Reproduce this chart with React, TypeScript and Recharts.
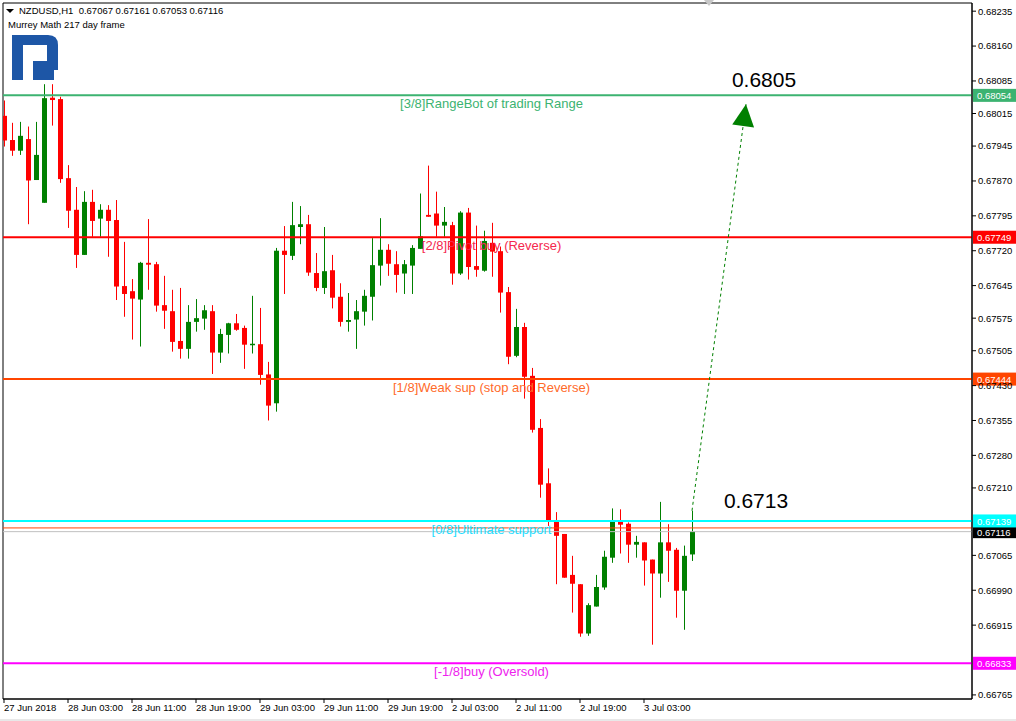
import React from 'react';
import {
  ComposedChart,
  Bar,
  XAxis,
  YAxis,
  ReferenceLine,
  ReferenceDot,
  ReferenceArea,
} from 'recharts';

const FONT = '"Liberation Sans", Arial, sans-serif';
const UP = '#008000';
const DOWN = '#ff0000';

// NZDUSD H1 candles, 27 Jun 19:00 .. 3 Jul 06:00 (one per hour)
const opens = [
  0.6801, 0.67958, 0.67935, 0.6796, 0.67872, 0.67823, 0.68049, 0.68046, 0.67876, 0.67808,
  0.67711, 0.67825, 0.67789, 0.67808, 0.67786, 0.67644, 0.67633, 0.67615, 0.67694, 0.67691,
  0.67603, 0.6759, 0.67526, 0.67509, 0.67567, 0.67574, 0.6759, 0.67501, 0.67539, 0.67564,
  0.67554, 0.67518, 0.67519, 0.67454, 0.67392, 0.6772, 0.67709, 0.67771, 0.67777, 0.67672,
  0.6764, 0.67678, 0.67621, 0.67567, 0.67572, 0.67589, 0.67621, 0.67688, 0.67722, 0.67691,
  0.67671, 0.67688, 0.67724, 0.67797, 0.678, 0.67774, 0.67775, 0.67671, 0.67802, 0.67687,
  0.67677, 0.67737, 0.67719, 0.67631, 0.67494, 0.67556, 0.67451, 0.67339, 0.6722, 0.67141,
  0.67111, 0.67023, 0.67003, 0.66897, 0.66955, 0.66996, 0.6706, 0.67141, 0.67133, 0.67088,
  0.67093, 0.67056, 0.67026, 0.67093, 0.67077, 0.66989, 0.67067,
];
const highs = [
  0.68043, 0.67995, 0.67997, 0.67987, 0.67997, 0.68078, 0.68078, 0.68051, 0.67904, 0.67857,
  0.67848, 0.67851, 0.6782, 0.67818, 0.67829, 0.67739, 0.67659, 0.67696, 0.67788, 0.67696,
  0.67666, 0.67636, 0.6764, 0.67603, 0.67616, 0.67603, 0.67603, 0.67552, 0.67565, 0.67584,
  0.67559, 0.67623, 0.67597, 0.67481, 0.67726, 0.67773, 0.67825, 0.67816, 0.67797, 0.67715,
  0.67771, 0.67711, 0.6765, 0.67629, 0.67614, 0.67636, 0.67747, 0.6779, 0.67734, 0.67719,
  0.677, 0.67732, 0.67843, 0.67903, 0.67847, 0.67814, 0.67782, 0.67805, 0.67812, 0.67774,
  0.67763, 0.6778, 0.67729, 0.67642, 0.67595, 0.67565, 0.67468, 0.67358, 0.67252, 0.67158,
  0.67111, 0.67064, 0.67003, 0.66962, 0.67023, 0.67075, 0.67166, 0.67164, 0.67136, 0.67107,
  0.67093, 0.67056, 0.6718, 0.67132, 0.67081, 0.67086, 0.67161,
];
const lows = [
  0.67944, 0.67924, 0.67926, 0.67777, 0.67872, 0.67823, 0.67989, 0.67866, 0.67769, 0.67683,
  0.67711, 0.6775, 0.6775, 0.67707, 0.67614, 0.67578, 0.67529, 0.67514, 0.67636, 0.67589,
  0.67552, 0.67503, 0.67488, 0.67488, 0.67546, 0.6755, 0.67455, 0.67479, 0.67499, 0.67548,
  0.67466, 0.67499, 0.67432, 0.67355, 0.67374, 0.67627, 0.677, 0.67734, 0.67666, 0.67633,
  0.67627, 0.67596, 0.67557, 0.67546, 0.67509, 0.67559, 0.6757, 0.67645, 0.67666, 0.6763,
  0.67627, 0.67627, 0.67724, 0.67793, 0.6775, 0.6775, 0.67647, 0.67668, 0.67658, 0.67664,
  0.67675, 0.67664, 0.67587, 0.67476, 0.67491, 0.67402, 0.67329, 0.67189, 0.67128, 0.67003,
  0.67017, 0.66942, 0.6689, 0.66892, 0.66955, 0.66991, 0.67049, 0.67069, 0.67049, 0.6706,
  0.67, 0.66873, 0.66974, 0.67008, 0.66931, 0.66905, 0.67053,
];
const closes = [
  0.67957, 0.67935, 0.67967, 0.67871, 0.67926, 0.68048, 0.68044, 0.67874, 0.67806, 0.67711,
  0.67825, 0.67784, 0.67808, 0.67784, 0.67643, 0.67627, 0.67617, 0.67694, 0.6769, 0.67602,
  0.67591, 0.67524, 0.67509, 0.67567, 0.67575, 0.67592, 0.67501, 0.67541, 0.67564, 0.6755,
  0.67518, 0.6752, 0.67453, 0.67387, 0.6772, 0.67711, 0.67775, 0.67777, 0.67673, 0.6764,
  0.67676, 0.67619, 0.67567, 0.67571, 0.6759, 0.67623, 0.67689, 0.67722, 0.67692, 0.67668,
  0.67691, 0.67726, 0.67751, 0.67793, 0.67774, 0.67782, 0.67671, 0.67802, 0.67685, 0.67679,
  0.67741, 0.67718, 0.6763, 0.67492, 0.67556, 0.67449, 0.67335, 0.67217, 0.6714, 0.67107,
  0.67017, 0.67004, 0.66897, 0.66958, 0.66997, 0.67062, 0.67141, 0.67131, 0.67088, 0.67094,
  0.67054, 0.67026, 0.67093, 0.67075, 0.66989, 0.67064, 0.67116,
];

const timeTicks = [0, 8, 16, 24, 32, 40, 48, 56, 64, 72, 80];
const timeLabels = [
  '27 Jun 2018', '28 Jun 03:00', '28 Jun 11:00', '28 Jun 19:00', '29 Jun 03:00',
  '29 Jun 11:00', '29 Jun 19:00', '2 Jul 03:00', '2 Jul 11:00', '2 Jul 19:00', '3 Jul 03:00',
];

const priceTicks = [
  0.68235, 0.6816, 0.68085, 0.68015, 0.67945, 0.6787, 0.67795, 0.6772, 0.67645, 0.67575,
  0.67505, 0.6743, 0.67355, 0.6728, 0.6721, 0.67065, 0.6699, 0.66915, 0.66765,
];

// Murrey Math levels
const levelValues = [0.68054, 0.67749, 0.67444, 0.67139, 0.66833];
const levelNames = [
  '[3/8]RangeBot of trading Range',
  '[2/8]Pivot buy (Reverse)',
  '[1/8]Weak sup (stop and Reverse)',
  '[0/8]Ultimate support',
  '[-1/8]buy (Oversold)',
];
const levelColors = ['#3cb371', '#ff0000', '#ff4500', '#00ffff', '#ff00ff'];
const levelTextColors = ['#3cb371', '#f5284e', '#ff6a2a', '#22ddff', '#ee22ee'];

const bidPrice = 0.67116;
const askPrice = 0.67124;

const arrowFrom = { i: 86, price: 0.67161 };
const arrowTo = { i: 92.75, price: 0.68035 };
const targetText = { i: 95, price: 0.68089, label: '0.6805' };
const currentText = { i: 94, price: 0.67182, label: '0.6713' };

const X_DOMAIN: [number, number] = [-0.125, 121];
const Y_DOMAIN: [number, number] = [0.667562, 0.682526];

const data = opens.map((o, i) => ({
  i,
  open: o,
  high: highs[i],
  low: lows[i],
  close: closes[i],
}));

function Candle(props: any) {
  const { x, y, width, height, payload } = props;
  const top = Math.min(y, y + height);
  const h = Math.abs(height);
  const up = payload.close >= payload.open;
  const color = up ? UP : DOWN;
  const span = payload.high - payload.low || 1e-9;
  const at = (v: number) => top + ((payload.high - v) / span) * h;
  const cx = Math.round(x + width / 2) + 0.5;
  const bTop = at(Math.max(payload.open, payload.close));
  const bBot = at(Math.min(payload.open, payload.close));
  return (
    <g>
      <line x1={cx} x2={cx} y1={top} y2={top + h} stroke={color} strokeWidth={1} />
      <rect x={cx - 2.5} y={bTop} width={5} height={Math.max(1.5, bBot - bTop)} fill={color} />
    </g>
  );
}

function TimeTick({ x, y, payload }: any) {
  const idx = timeTicks.indexOf(payload.value);
  return (
    <text x={x} y={y} dy="0.71em" textAnchor="start" fontSize={9.5} fontFamily={FONT} fill="#000">
      {idx >= 0 ? timeLabels[idx] : ''}
    </text>
  );
}

function LevelLabel({ viewBox, text, color, textColor, box, boxText, textColorBox }: any) {
  if (!viewBox) return null;
  const { x, y, width } = viewBox;
  return (
    <g>
      {text && (
        <text x={x + width / 2 + 4} y={y + 13} textAnchor="middle" fontSize={13} fontFamily={FONT} fill={textColor}>
          {text}
        </text>
      )}
      <rect x={x + width + 1} y={y - 6.5} width={43} height={13} fill={box} />
      <text x={x + width + 5} y={y + 0.5} dominantBaseline="central" fontSize={9.5} fontFamily={FONT} fill={textColorBox || '#fff'}>
        {boxText}
      </text>
    </g>
  );
}

function ArrowHead({ cx, cy }: any) {
  if (cx == null) return null;
  return (
    <polygon
      points={`${cx},${cy} ${cx - 11},${cy + 22} ${cx + 11},${cy + 22}`}
      fill={UP}
      transform={`rotate(7.4 ${cx} ${cy})`}
    />
  );
}

function BigText({ cx, cy, label }: any) {
  if (cx == null) return null;
  return (
    <text x={cx} y={cy} textAnchor="middle" dominantBaseline="central" fontSize={21} fontFamily={FONT} fill="#000">
      {label}
    </text>
  );
}

function Logo() {
  return (
    <svg width={70} height={90} style={{ position: 'absolute', left: 0, top: 0 }}>
      <rect x={12} y={35} width={11} height={45} fill="#1d56a6" />
      <path d="M23,35 H48 Q58,35 58,45 V70 H33 V61 H47 V45 H23 Z" fill="#1d56a6" />
      <rect x={33} y={70} width={21} height={10} fill="#1d56a6" />
    </svg>
  );
}

export default function App() {
  return (
    <div
      style={{
        position: 'fixed',
        left: 0,
        top: 0,
        width: 1016,
        height: 721,
        background: '#fff',
        fontFamily: FONT,
        overflow: 'hidden',
      }}
    >
      <ComposedChart
        width={1016}
        height={721}
        data={data}
        margin={{ top: 3, right: 0, bottom: 0, left: 3 }}
      >
        <XAxis
          dataKey="i"
          type="number"
          domain={X_DOMAIN}
          allowDataOverflow
          ticks={timeTicks}
          tick={<TimeTick />}
          tickSize={4}
          tickMargin={1}
          height={22}
          axisLine={{ stroke: '#000' }}
          tickLine={{ stroke: '#000' }}
          interval={0}
        />
        <YAxis
          orientation="right"
          type="number"
          domain={Y_DOMAIN}
          allowDataOverflow
          ticks={priceTicks}
          interval={0}
          tickFormatter={(v: number) => v.toFixed(5)}
          tick={{ fontSize: 9.5, fill: '#000', fontFamily: FONT }}
          tickSize={4}
          tickMargin={2}
          width={44}
          axisLine={{ stroke: '#000' }}
          tickLine={{ stroke: '#000' }}
        />
        <ReferenceArea
          x1={X_DOMAIN[0]}
          x2={X_DOMAIN[1]}
          y1={Y_DOMAIN[0]}
          y2={Y_DOMAIN[1]}
          fill="none"
          stroke="#000"
          strokeWidth={1}
          ifOverflow="visible"
        />
        <Bar
          dataKey={(d: any) => [d.low, d.high]}
          barSize={5}
          shape={<Candle />}
          isAnimationActive={false}
        />
        <ReferenceLine y={askPrice} stroke="#ff4500" strokeWidth={1} />
        <ReferenceLine
          y={bidPrice}
          stroke="#c0c0c0"
          strokeWidth={1}
          label={<LevelLabel box="#000" boxText={bidPrice.toFixed(5)} />}
        />
        {levelValues.map((v, k) => (
          <ReferenceLine
            key={k}
            y={v}
            stroke={levelColors[k]}
            strokeWidth={2}
            label={
              <LevelLabel
                text={levelNames[k]}
                textColor={levelTextColors[k]}
                box={levelColors[k]}
                boxText={v.toFixed(5)}
              />
            }
          />
        ))}
        <ReferenceLine
          segment={[
            { x: arrowFrom.i, y: arrowFrom.price },
            { x: arrowTo.i, y: arrowTo.price },
          ]}
          stroke={UP}
          strokeWidth={1}
          strokeDasharray="3 3"
          ifOverflow="visible"
        />
        <ReferenceDot x={arrowTo.i} y={arrowTo.price} r={0} shape={<ArrowHead />} ifOverflow="visible" />
        <ReferenceDot
          x={targetText.i}
          y={targetText.price}
          r={0}
          shape={<BigText label={targetText.label} />}
          ifOverflow="visible"
        />
        <ReferenceDot
          x={currentText.i}
          y={currentText.price}
          r={0}
          shape={<BigText label={currentText.label} />}
          ifOverflow="visible"
        />
      </ComposedChart>

      <Logo />
      <svg width={14} height={14} style={{ position: 'absolute', left: 4, top: 5 }}>
        <polygon points="2,4 10,4 6,8" fill="#000" />
      </svg>
      <svg width={14} height={8} style={{ position: 'absolute', left: 702, top: 0 }}>
        <polygon points="2,0 12,0 7,6" fill="#c8c8c8" />
      </svg>
      <div style={{ position: 'absolute', left: 19, top: 5, fontSize: 9.5, color: '#000', whiteSpace: 'pre' }}>
        {'NZDUSD,H1  ' + [opens[86], highs[86], lows[86], closes[86]].map((v) => v.toFixed(5)).join(' ')}
      </div>
      <div style={{ position: 'absolute', left: 8, top: 19, fontSize: 9.5, color: '#000' }}>
        Murrey Math 217 day frame
      </div>
      <div style={{ position: 'absolute', left: 0, top: 719, width: 1016, height: 2, background: '#e8e8e8' }} />
    </div>
  );
}
